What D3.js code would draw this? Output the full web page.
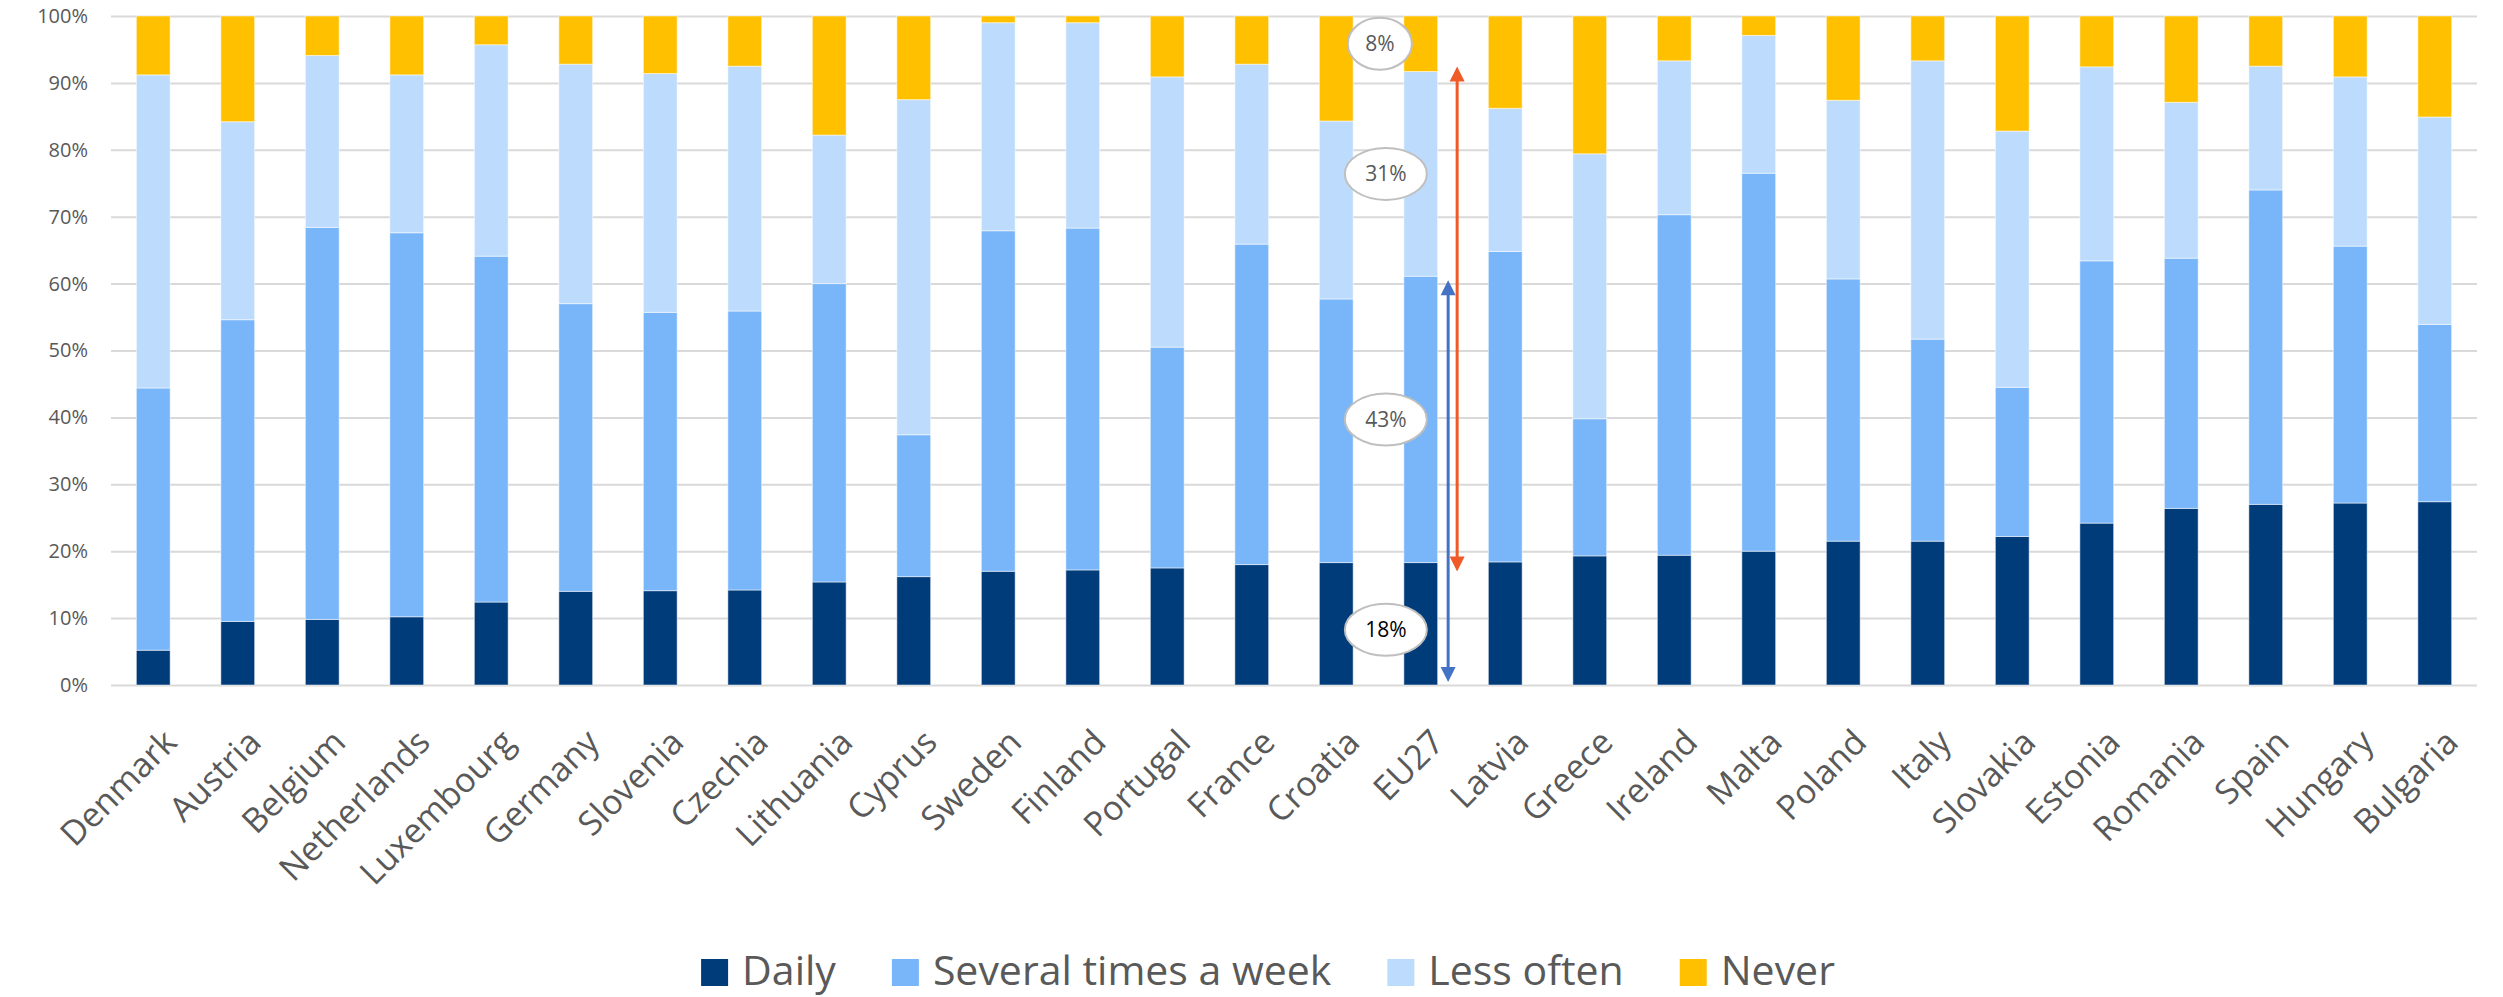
<!DOCTYPE html>
<html>
<head>
        <meta charset="utf-8">
        <script src="https://d3js.org/d3.v7.min.js"></script>
        <style>
            body { margin: 0; background: #fff; }
            text { font-family: "Open Sans", "Noto Sans", sans-serif; }
        </style>
</head>
<body>
        <script type="text/javascript">

            // data (percent of people)
            var countries = ["Denmark","Austria","Belgium","Netherlands","Luxembourg","Germany","Slovenia","Czechia",
                             "Lithuania","Cyprus","Sweden","Finland","Portugal","France","Croatia","EU27","Latvia",
                             "Greece","Ireland","Malta","Poland","Italy","Slovakia","Estonia","Romania","Spain",
                             "Hungary","Bulgaria"];
            var daily   = [5.2, 9.5, 9.8, 10.2, 12.4, 14.0, 14.1, 14.2, 15.4, 16.2, 17.0, 17.2, 17.5, 18.0, 18.3, 18.3, 18.4,
                           19.3, 19.4, 20.0, 21.5, 21.5, 22.2, 24.2, 26.4, 27.0, 27.2, 27.4];
            var several = [39.2, 45.1, 58.6, 57.4, 51.7, 43.0, 41.6, 41.7, 44.6, 21.2, 50.9, 51.1, 33.0, 47.9, 39.4, 42.8, 46.4,
                           20.5, 50.9, 56.5, 39.2, 30.2, 22.3, 39.2, 37.4, 47.0, 38.4, 26.5];
            var less    = [46.8, 29.6, 25.7, 23.6, 31.6, 35.8, 35.7, 36.6, 22.2, 50.1, 31.1, 30.7, 40.4, 26.9, 26.6, 30.6, 21.4,
                           39.6, 23.0, 20.6, 26.7, 41.6, 38.3, 29.0, 23.3, 18.5, 25.3, 31.0];
            var never   = [8.8, 15.8, 5.9, 8.8, 4.3, 7.2, 8.6, 7.5, 17.8, 12.5, 1.0, 1.0, 9.1, 7.2, 15.7, 8.3, 13.8,
                           20.6, 6.7, 2.9, 12.6, 6.7, 17.2, 7.6, 12.9, 7.5, 9.1, 15.1];
            var seriesNames = ["Daily", "Several times a week", "Less often", "Never"];
            var seriesKeys = ["daily", "several", "less", "never"];
            var yTicks = [0, 10, 20, 30, 40, 50, 60, 70, 80, 90, 100];
            var eu27Labels = ["18%", "43%", "31%", "8%"];

            function draw() {

                    var w = 2503;
                    var h = 997;

                    var margin = {top: 16, right: 26, bottom: 312, left: 111},
                    width = w - margin.left - margin.right,
                    height = h - margin.top - margin.bottom;

                    var colors = ["#003B7A", "#78B5F9", "#BDDCFD", "#FFC000"];
                    var textColor = "#595959";

                    var rows = countries.map(function(c, i) {
                        return {country: c, daily: daily[i], several: several[i], less: less[i], never: never[i]};
                    });

                    var stacked = d3.stack().keys(seriesKeys)(rows);

                    var x = d3.scaleBand()
                        .domain(countries)
                        .range([0, width])
                        .paddingInner(0.6)
                        .paddingOuter(0.3);

                    var y = d3.scaleLinear()
                        .domain([0, 100])
                        .range([height, 0]);

                    var svg = d3.select("body")
                        .append("svg")
                            .attr("width", w)
                            .attr("height", h)
                        .append("g")
                        .attr("transform", "translate(" + margin.left + "," + margin.top + ")");

                    // gridlines + y labels
                    var yAxis = svg.append("g")
                        .call(d3.axisLeft(y).tickValues(yTicks).tickSize(-width).tickPadding(23)
                            .tickFormat(function(d) { return d + "%"; }));
                    yAxis.select(".domain").remove();
                    yAxis.selectAll("line")
                        .attr("stroke", "#d9d9d9")
                        .attr("stroke-width", 2);
                    yAxis.selectAll("text")
                        .attr("fill", textColor)
                        .style("font-size", "20px");

                    // bars
                    svg.selectAll(".serie")
                        .data(stacked)
                        .enter().append("g")
                            .attr("fill", function(d, i) { return colors[i]; })
                        .selectAll("rect")
                        .data(function(d) { return d; })
                        .enter().append("rect")
                            .attr("x", function(d) { return x(d.data.country); })
                            .attr("y", function(d) { return y(d[1]); })
                            .attr("height", function(d) { return y(d[0]) - y(d[1]); })
                            .attr("width", x.bandwidth())
                            .attr("stroke", "#ffffff")
                            .attr("stroke-opacity", 0.5)
                            .attr("stroke-width", 1);

                    // x labels, rotated
                    svg.append("g")
                        .selectAll("text")
                        .data(countries)
                        .enter().append("text")
                            .attr("transform", function(d) {
                                return "translate(" + (x(d) + x.bandwidth() / 2 + 8) + "," + (height + 42) + ") rotate(-45)";
                            })
                            .attr("text-anchor", "end")
                            .attr("dy", "0.72em")
                            .attr("fill", textColor)
                            .style("font-size", "34px")
                            .text(function(d) { return d; });

                    // EU27 annotation: value bubbles and arrows
                    var eu = countries.indexOf("EU27");
                    var bx = x("EU27");
                    var bw = x.bandwidth();

                    var bubbles = stacked.map(function(s, i) {
                        return {label: eu27Labels[i], mid: (s[eu][0] + s[eu][1]) / 2, i: i};
                    });

                    var bub = svg.append("g").selectAll("g")
                        .data(bubbles)
                        .enter().append("g")
                        .attr("transform", function(d) {
                            var cx = d.i == 3 ? bx - 24 : bx - 18;
                            var cy = d.i == 0 ? y(d.mid) + 6 : y(d.mid);
                            return "translate(" + cx + "," + cy + ")";
                        });
                    bub.append("ellipse")
                        .attr("rx", function(d) { return d.i == 3 ? 32 : 41; })
                        .attr("ry", 26)
                        .attr("fill", "#ffffff")
                        .attr("stroke", "#bfbfbf")
                        .attr("stroke-width", 2);
                    bub.append("text")
                        .attr("text-anchor", "middle")
                        .attr("dy", "0.36em")
                        .attr("fill", function(d) { return d.i == 0 ? "#000000" : textColor; })
                        .style("font-size", "21px")
                        .text(function(d) { return d.label; });

                    function arrow(xp, yTop, yBot, color) {
                        var hw = 7.5, hh = 15;
                        svg.append("line")
                            .attr("x1", xp).attr("x2", xp)
                            .attr("y1", yTop + hh - 1).attr("y2", yBot - hh + 1)
                            .attr("stroke", color)
                            .attr("stroke-width", 3);
                        svg.append("path")
                            .attr("d", "M" + xp + "," + yTop + "L" + (xp + hw) + "," + (yTop + hh) + "L" + (xp - hw) + "," + (yTop + hh) + "Z")
                            .attr("fill", color);
                        svg.append("path")
                            .attr("d", "M" + xp + "," + yBot + "L" + (xp + hw) + "," + (yBot - hh) + "L" + (xp - hw) + "," + (yBot - hh) + "Z")
                            .attr("fill", color);
                    }

                    // orange: daily top to less-often top; blue: 0 to several top
                    arrow(bx + bw + 19.5, y(stacked[2][eu][1]) - 5, y(stacked[0][eu][1]) + 9, "#F05A28");
                    arrow(bx + bw + 10.5, y(stacked[1][eu][1]) + 4, y(0) - 3, "#4472C4");

                    // legend
                    var legend = d3.select("svg").append("g");
                    var lx = 0;
                    seriesNames.forEach(function(name, i) {
                        var g = legend.append("g").attr("transform", "translate(" + lx + ",0)");
                        g.append("rect")
                            .attr("x", 0).attr("y", 959)
                            .attr("width", 27).attr("height", 27)
                            .attr("fill", colors[i]);
                        var t = g.append("text")
                            .attr("x", 41).attr("y", 985)
                            .attr("fill", textColor)
                            .style("font-size", "41px")
                            .text(name);
                        lx += 41 + t.node().getComputedTextLength() + 56;
                    });
                    lx -= 56;
                    legend.attr("transform", "translate(" + (1268 - lx / 2) + ",0)");
            };

            draw();

        </script>
</body>
</html>
